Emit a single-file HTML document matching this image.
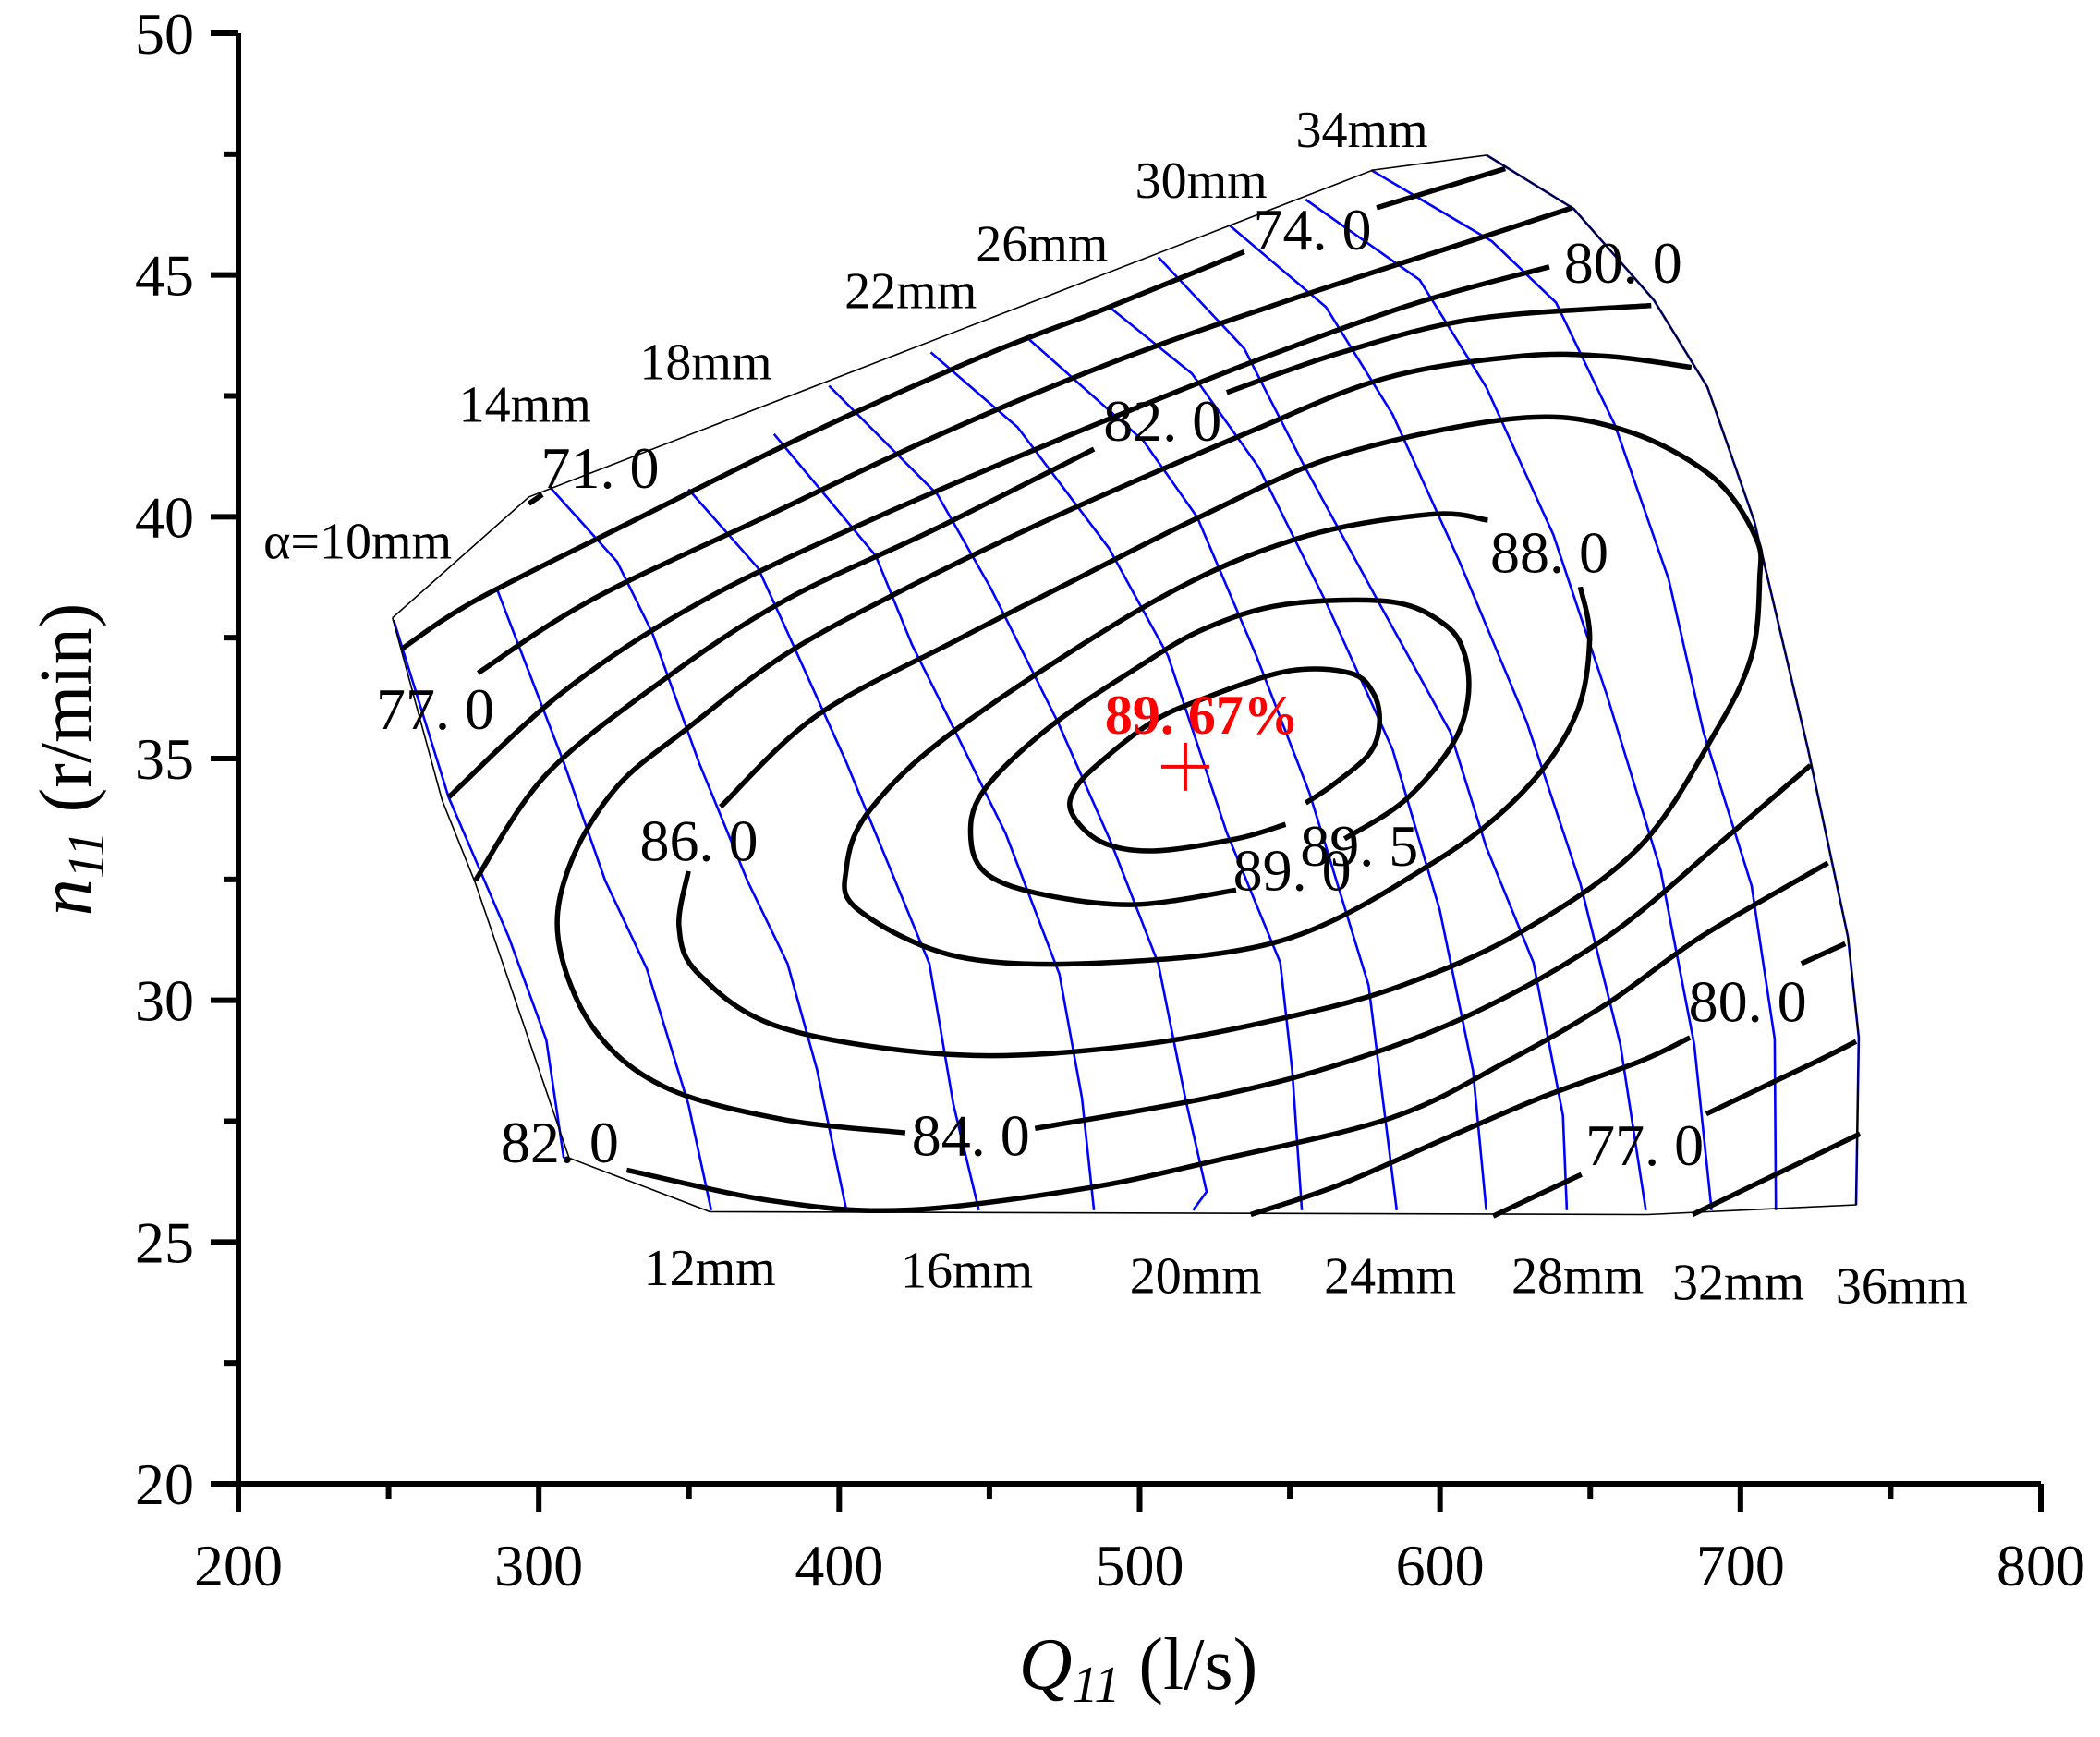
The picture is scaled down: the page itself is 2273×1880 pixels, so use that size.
<!DOCTYPE html>
<html><head><meta charset="utf-8"><title>Hill chart</title>
<style>
html,body{margin:0;padding:0;background:#fff;}
svg{display:block;}
text{font-family:"Liberation Serif","Noto Serif CJK SC",serif;}
</style></head>
<body>
<svg id="chart" width="2273" height="1880" viewBox="0 0 2273 1880" xmlns="http://www.w3.org/2000/svg">
<rect width="2273" height="1880" fill="#fff"/>
<g id="blue"></g>
<g id="bound"></g>
<g id="cont"></g>
<g id="labels"></g>
<g id="axes"></g>
</svg>
<script>
// ---- axis domains & tick values ----
const xTicks = [200,300,400,500,600,700,800];
const yTicks = [20,25,30,35,40,45,50];
const xMinor = [250,350,450,550,650,750];
const yMinor = [22.5,27.5,32.5,37.5,42.5,47.5];

// ---- operating boundary (Q11, n11) ----
const boundary = [[251.3,37.91],[296.7,40.41],[577.6,47.17],[615.5,47.48],[644.5,46.37],[671.2,44.48],[689.0,42.68],[704.6,39.91],[722.5,35.19],[735.8,31.31],[739.4,29.23],[738.5,25.77],[669.0,25.57],[356.9,25.63],[310.1,26.74],[278.9,32.42],[267.8,34.14],[251.3,37.91]];

// ---- guide vane opening lines ----
const vane10 = [[251.7,37.86],[270.0,34.20],[290.0,31.31],[302.5,29.18],[308.3,26.74]];
const vane12 = [[286.0,38.52],[308.3,34.92],[322.1,32.48],[336.0,30.65],[349.8,27.85],[357.4,25.66]];
const vane14 = [[303.9,40.60],[326.1,39.07],[337.7,37.61],[353.3,34.92],[369.4,32.48],[382.8,30.76],[392.6,28.57],[402.4,25.66]];
const vane16 = [[349.8,40.57],[373.0,38.94],[382.8,37.61],[402.4,34.92],[430.0,30.76],[438.0,27.85],[446.5,25.66]];
const vane18 = [[378.3,41.71],[412.2,39.19],[424.2,37.36],[438.0,35.64],[455.4,33.45],[473.3,30.54],[480.8,27.98],[484.8,25.66]];
const vane20 = [[396.6,42.71],[432.7,40.46],[450.5,38.52],[472.8,35.75],[490.6,33.25],[506.2,30.76],[515.2,27.98],[522.3,26.04],[517.8,25.66]];
const vane22 = [[430.5,43.40],[459.4,41.85],[489.8,39.35],[509.4,37.13],[529.0,33.47],[546.8,30.78],[550.8,28.54],[554.0,25.66]];
const vane24 = [[462.1,43.73],[501.3,41.57],[519.2,39.99],[538.8,37.13],[556.6,34.28],[576.2,30.31],[585.6,25.66]];
const vane26 = [[489.3,44.37],[517.4,42.96],[539.7,41.02],[562.0,38.24],[584.2,35.19],[599.9,31.87],[611.0,28.54],[615.4,25.66]];
const vane28 = [[506.2,45.37],[534.8,43.48],[554.4,41.10],[578.0,38.41],[603.4,35.55],[615.4,33.17],[631.1,30.78],[640.9,27.62],[642.2,25.66]];
const vane30 = [[529.9,46.03],[562.0,44.34],[584.2,42.12],[606.5,39.07],[628.9,35.75],[646.7,32.42],[660.0,29.09],[668.5,25.66]];
const vane32 = [[555.3,46.56],[593.2,44.90],[615.4,42.68],[637.7,39.63],[655.6,36.30],[673.4,32.70],[684.6,29.09],[690.4,25.66]];
const vane34 = [[577.1,47.17],[617.2,45.70],[638.6,44.43],[658.2,41.90],[676.1,38.71],[687.7,35.55],[703.7,32.37],[711.4,29.20],[711.8,25.66]];
const vane36 = [[615.5,47.48],[644.5,46.37],[671.2,44.48],[689.0,42.68],[704.6,39.91],[722.5,35.19],[735.8,31.31],[739.4,29.23],[738.5,25.77]];
const vaneNames = ["10","12","14","16","18","20","22","24","26","28","30","32","34","36"];
const vaneSeries = [vane10,vane12,vane14,vane16,vane18,vane20,vane22,vane24,vane26,vane28,vane30,vane32,vane34,vane36];

// ---- efficiency contours ----
const c71 = [[296.7,40.27],[301.2,40.46]];
const c74a = [[254.4,37.27],[278.9,38.27],[331.9,39.93],[390.8,41.74],[449.6,43.37],[488.0,44.29],[534.8,45.48]];
const c74b = [[578.9,46.39],[621.7,47.20]];
const c74c = [[684.1,25.57],[709.1,26.32],[739.8,27.24]];
const c77a = [[279.8,36.77],[317.2,38.27],[376.1,40.02],[434.9,41.74],[493.8,43.26],[552.6,44.54],[611.4,45.73],[644.0,46.39]];
const c77b = [[617.7,25.54],[647.1,26.40]];
const c77c = [[688.6,27.65],[725.1,28.73],[738.5,29.15]];
const c80a = [[270.0,34.20],[308.3,36.39],[353.3,38.22],[408.6,39.88],[473.3,41.60],[537.9,43.21],[591.0,44.40],[636.4,45.17]];
const c80b = [[537.0,25.57],[566.4,26.18],[602.1,27.15],[633.3,27.98],[666.3,28.73],[683.2,29.23]];
const c80c = [[720.3,30.76],[734.9,31.17]];
const c82a = [[278.9,32.48],[302.5,34.67],[341.8,36.64],[381.9,38.27],[431.8,39.74],[484.8,41.40]];
const c82b = [[529.0,42.57],[567.3,43.40],[611.4,44.09],[670.3,44.37]];
const c82c = [[329.3,26.49],[377.9,25.85],[422.0,25.66],[480.8,26.10],[525.0,26.68],[583.8,27.57],[622.1,28.73],[655.6,29.93],[686.8,31.31],[729.1,32.84]];
const c84a = [[683.7,43.09],[655.6,43.32],[626.2,43.32],[582.0,42.87],[537.9,41.79],[467.5,39.88],[414.4,38.27],[381.0,37.11],[349.8,35.64],[326.1,34.42],[310.6,32.84],[306.5,31.26],[318.1,29.43],[341.8,28.21],[381.0,27.54],[422.0,27.26]];
const c84b = [[465.2,27.35],[525.0,28.01],[569.1,28.73],[611.0,29.73],[655.6,31.31],[695.7,33.39],[723.3,34.86]];
const c86 = [[360.5,34.00],[392.6,35.89],[439.8,37.47],[477.3,38.66],[521.8,40.05],[567.3,41.29],[626.2,42.04],[661.4,41.79],[690.8,40.82],[705.1,39.57],[706.4,38.71],[703.7,37.13],[691.7,35.55],[666.3,33.17],[627.1,31.42],[588.7,30.34],[551.3,29.68],[498.7,29.07],[439.8,28.87],[381.0,29.43],[353.3,30.54],[346.7,31.51],[349.8,32.67]];
const c88 = [[646.7,38.55],[649.8,37.44],[644.9,35.86],[627.1,34.28],[597.6,32.84],[548.6,31.26],[489.8,30.78],[439.8,30.90],[406.4,31.87],[402.4,32.73],[410.4,33.95],[439.8,35.64],[505.3,38.27],[552.6,39.55],[596.7,40.05],[615.9,39.93]];
const c89 = [[532.1,32.28],[498.7,31.98],[469.2,32.17],[449.6,32.59],[443.8,33.34],[447.8,34.31],[469.2,35.61],[498.7,36.86],[521.8,37.69],[548.6,38.19],[583.8,38.24],[601.6,37.77],[608.3,37.13],[609.2,36.19],[603.4,35.22],[587.8,34.11],[568.2,33.34]];
const c895 = [[548.6,33.64],[532.1,33.34],[504.5,33.09],[487.1,33.28],[477.3,33.89],[479.0,34.42],[488.9,35.03],[504.0,35.75],[519.2,36.19],[548.6,36.80],[570.0,36.77],[578.0,36.33],[579.8,35.69],[576.2,35.08],[564.2,34.45],[555.3,34.08]];
const contourSeries = [c71,c74a,c74b,c74c,c77a,c77b,c77c,c80a,c80b,c80c,c82a,c82b,c82c,c84a,c84b,c86,c88,c89,c895];
const contourNames = ["71","74-a","74-b","74-c","77-a","77-b","77-c","80-a","80-b","80-c","82-a","82-b","82-c","84-a","84-b","86","88","89","89-5"];

// ---- contour label values and positions (Q11, n11) ----
const effLabelText = ["71. 0","74. 0","77. 0","80. 0","82. 0","86. 0","88. 0","89. 0","89. 5","84. 0","82. 0","80. 0","77. 0"];
const effLabelQ = [320.4,557.5,265.5,660.9,507.6,353.3,636.4,550.8,573.1,443.8,307.0,702.4,668.1];
const effLabelN = [41.02,45.95,36.03,45.26,41.99,33.31,39.27,32.70,33.20,27.21,27.07,29.98,27.01];

// ---- guide vane labels ----
const vaneLabelText = ["α=10mm","14mm","18mm","22mm","26mm","30mm","34mm","12mm","16mm","20mm","24mm","28mm","32mm","36mm"];
const vaneLabelQ = [239.7,295.4,355.6,423.8,467.5,520.5,574.0,356.9,442.5,518.7,583.4,645.8,699.3,753.7];
const vaneLabelN = [39.52,42.35,43.23,44.70,45.67,46.98,48.03,24.49,24.44,24.33,24.33,24.33,24.19,24.12];

// ---- optimum point ----
const optQ = [515.2];
const optN = [34.83];
const optEff = ["89. 67%"];

// ---- scales ----
function X(q){ return 258 + (q-200)*(2209-258)/600; }
function Y(n){ return 36 + (50-n)*(1606-36)/30; }

const NS = "http://www.w3.org/2000/svg";
function mk(tag, attrs, parent){
  const e = document.createElementNS(NS, tag);
  for (const k in attrs) e.setAttribute(k, attrs[k]);
  parent.appendChild(e); return e;
}
function linePath(pts){
  return pts.map((p,i)=>(i?"L":"M")+X(p[0]).toFixed(1)+","+Y(p[1]).toFixed(1)).join(" ");
}
function smoothPath(pts){
  const P = pts.map(p=>[X(p[0]),Y(p[1])]);
  if (P.length<3) return "M"+P.map(p=>p[0].toFixed(1)+","+p[1].toFixed(1)).join(" L");
  let d = "M"+P[0][0].toFixed(1)+","+P[0][1].toFixed(1);
  for (let i=0;i<P.length-1;i++){
    const p0=P[i-1]||P[i], p1=P[i], p2=P[i+1], p3=P[i+2]||P[i+1];
    const c1=[p1[0]+(p2[0]-p0[0])/6, p1[1]+(p2[1]-p0[1])/6];
    const c2=[p2[0]-(p3[0]-p1[0])/6, p2[1]-(p3[1]-p1[1])/6];
    d += " C"+c1[0].toFixed(1)+","+c1[1].toFixed(1)+" "+c2[0].toFixed(1)+","+c2[1].toFixed(1)+" "+p2[0].toFixed(1)+","+p2[1].toFixed(1);
  }
  return d;
}

// blue guide-vane lines
const gBlue = document.getElementById("blue");
vaneSeries.forEach((s,i)=>{
  const el = mk("path",{d:linePath(s),fill:"none",stroke:"#0000ff","stroke-width":2.6,"stroke-linejoin":"round"},gBlue);
  
  
});

// boundary
const gB = document.getElementById("bound");
const bEl = mk("path",{d:linePath(boundary),fill:"none",stroke:"#000","stroke-width":1.6},gB);



// contours
const gC = document.getElementById("cont");
contourSeries.forEach((s,i)=>{
  const el = mk("path",{d:smoothPath(s),fill:"none",stroke:"#000","stroke-width":5.5,"stroke-linecap":"butt"},gC);
  
  
});

// labels
const gL = document.getElementById("labels");
effLabelText.forEach((t,i)=>{
  const el = mk("text",{x:X(effLabelQ[i]),y:Y(effLabelN[i])+22,"font-size":64,"text-anchor":"middle",fill:"#000"},gL);
  el.textContent = t;
  
  
});
vaneLabelText.forEach((t,i)=>{
  const el = mk("text",{x:X(vaneLabelQ[i]),y:Y(vaneLabelN[i])+20,"font-size":56,"text-anchor":"middle",fill:"#000"},gL);
  el.textContent = t;
  
  
});
optQ.forEach((q,i)=>{
  const cx=X(q), cy=Y(optN[i]);
  const m = mk("path",{d:"M"+(cx-26)+","+cy+" L"+(cx+26)+","+cy+" M"+cx+","+(cy-26)+" L"+cx+","+(cy+26),stroke:"#ff0000","stroke-width":4,fill:"none"},gL);
  
  
  const t = mk("text",{x:cx+18,y:cy-36,"font-size":60,"font-weight":"bold","text-anchor":"middle",fill:"#ff0000"},gL);
  t.textContent = optEff[i];
  
  
});

// axes
const gA = document.getElementById("axes");
const xa = mk("line",{x1:X(200),y1:Y(20),x2:X(800),y2:Y(20),stroke:"#000","stroke-width":6},gA);


const ya = mk("line",{x1:X(200),y1:Y(20)+3,x2:X(200),y2:Y(50),stroke:"#000","stroke-width":6},gA);


xTicks.forEach(v=>{
  const t = mk("line",{x1:X(v),y1:Y(20),x2:X(v),y2:Y(20)+30,stroke:"#000","stroke-width":6},gA);
  
  
  const l = mk("text",{x:X(v),y:Y(20)+110,"font-size":64,"text-anchor":"middle",fill:"#000"},gA);
  l.textContent = v;
  
  
});
xMinor.forEach(v=>{
  const t = mk("line",{x1:X(v),y1:Y(20),x2:X(v),y2:Y(20)+16,stroke:"#000","stroke-width":6},gA);
  
  
});
yTicks.forEach(v=>{
  const t = mk("line",{x1:X(200)-30,y1:Y(v),x2:X(200),y2:Y(v),stroke:"#000","stroke-width":6},gA);
  
  
  const l = mk("text",{x:X(200)-48,y:Y(v)+22,"font-size":64,"text-anchor":"end",fill:"#000"},gA);
  l.textContent = v;
  
  
});
yMinor.forEach(v=>{
  const t = mk("line",{x1:X(200)-16,y1:Y(v),x2:X(200),y2:Y(v),stroke:"#000","stroke-width":6},gA);
  
  
});
</script>
<svg style="position:absolute;left:0;top:0" width="2273" height="1880">
<text x="1232" y="1828" font-size="80" text-anchor="middle" font-family="Liberation Serif, serif"><tspan font-style="italic">Q</tspan><tspan font-style="italic" font-size="56" dy="14">11</tspan><tspan dy="-14"> (l/s)</tspan></text>
<text transform="translate(98,822) rotate(-90)" font-size="80" text-anchor="middle" font-family="Liberation Serif, serif"><tspan font-style="italic">n</tspan><tspan font-style="italic" font-size="56" dy="14">11</tspan><tspan dy="-14"> (r/min)</tspan></text>
</svg>
</body></html>
